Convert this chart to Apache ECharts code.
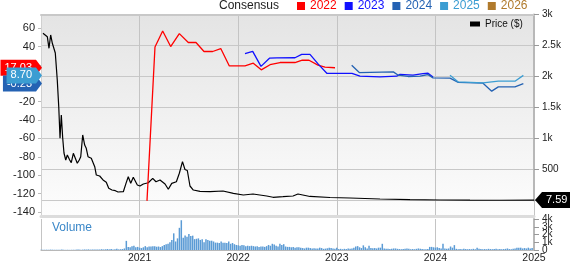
<!DOCTYPE html>
<html><head><meta charset="utf-8">
<script src="https://cdn.jsdelivr.net/npm/echarts@6/dist/echarts.min.js"></script>
<style>html,body{margin:0;padding:0;background:#fff}#c{width:570px;height:264px}</style>
</head><body><div id="c"></div>
<script>
const FONT = 'Liberation Sans, Arial, sans-serif';
// Price ($), decimal years
const priceYears = [2020.020,2020.038,2020.064,2020.081,2020.098,2020.115,2020.132,2020.145,2020.165,2020.180,2020.193,2020.206,2020.220,2020.233,2020.251,2020.267,2020.291,2020.307,2020.328,2020.348,2020.368,2020.388,2020.403,2020.423,2020.443,2020.459,2020.477,2020.510,2020.530,2020.545,2020.561,2020.595,2020.629,2020.662,2020.687,2020.720,2020.754,2020.781,2020.801,2020.835,2020.862,2020.885,2020.910,2020.936,2020.953,2020.977,2021.004,2021.038,2021.088,2021.133,2021.166,2021.207,2021.258,2021.291,2021.326,2021.373,2021.403,2021.435,2021.460,2021.484,2021.511,2021.545,2021.613,2021.714,2021.846,2021.951,2022.052,2022.150,2022.289,2022.353,2022.454,2022.556,2022.606,2022.728,2022.931,2023.134,2023.438,2023.742,2024.047,2024.351,2024.655,2025.000];
const priceValues = [2697,2723,2642,2455,2670,2536,2545,2379,1944,1513,1003,1379,1008,766,653,734,653,610,761,734,600,653,706,1057,895,842,706,681,697,545,411,395,331,294,197,169,158,137,132,142,277,384,277,374,358,250,234,266,287,358,303,331,266,181,277,303,439,626,500,484,234,169,148,142,153,116,89,105,73,52,61,73,105,65,48,40,24,13,8,5,4,7.59];

// Consensus EPS estimates
const c2022Years = [2021.075,2021.156,2021.234,2021.315,2021.403,2021.494,2021.572,2021.653,2021.741,2021.823,2021.910,2022.069,2022.153,2022.234,2022.323,2022.424,2022.576,2022.650,2022.718,2022.809,2022.880,2022.982];
const c2022Values = [-128,39.7,57.1,40.1,54.2,44.5,44.5,34.7,34.7,37.9,19.0,19.0,22.0,14.7,20.3,22.7,22.7,25.2,25.2,19.8,17.6,17.03];
const c2023Years = [2022.069,2022.147,2022.231,2022.317,2022.390,2022.576,2022.644,2022.728,2022.812,2022.901,2022.999,2023.154,2023.235,2023.438,2023.607,2023.641,2023.773,2023.874,2023.925,2023.976];
const c2023Values = [32.5,34.8,18.5,27.4,27.7,27.9,31.5,31.5,20.9,10.8,10.8,10.8,7.8,7.1,7.8,9.8,8.9,10.5,11.0,6.8];
const c2024Years = [2023.151,2023.228,2023.573,2023.624,2023.722,2023.844,2023.925,2023.976,2024.148,2024.232,2024.483,2024.571,2024.638,2024.807,2024.892];
const c2024Values = [19.8,11.8,12.5,8.9,7.5,7.8,9.5,6.0,5.7,1.0,0.2,-8.5,-3.8,-3.8,-0.23];
const c2025Years = [2024.148,2024.232,2024.483,2024.638,2024.807,2024.892];
const c2025Values = [8.9,1.6,0.6,2.4,2.4,8.70];

// Weekly volume (thousands), starting first week of 2020
const volumeStartYear = 2020;
const volumeValues = [0.02,0.03,0.02,0.04,0.03,0.05,0.04,0.03,0.02,0.03,0.04,0.05,0.03,0.02,0.03,0.02,0.03,0.04,0.03,0.05,0.06,0.04,0.05,0.07,0.06,0.08,0.05,0.06,0.07,0.05,0.06,0.08,0.1,0.07,0.09,0.12,
0.08,0.12,0.06,0.1,0.15,0.08,0.1,0.12,0.2,
1.18,0.4,0.35,0.5,0.55,0.35,0.4,0.3,0.25,0.35,0.5,0.35,0.45,0.45,0.5,0.48,0.42,0.45,0.38,0.5,
0.65,0.75,0.8,1.0,1.3,2.15,1.1,1.5,2.86,3.84,1.57,
1.88,1.7,2.08,1.8,1.85,1.4,1.45,1.5,1.3,1.4,1.0,1.4,1.3,1.2,1.2,1.1,0.95,0.95,0.9,1.1,0.95,0.95,0.9,1.1,
0.8,0.9,0.75,0.65,0.6,0.55,0.65,0.6,0.5,0.55,0.5,0.55,0.5,0.45,0.5,0.4,0.45,0.45,0.4,0.5,0.65,0.55,0.8,0.7,0.55,0.45,0.8,0.65,0.75,0.45,0.4,0.4,0.35,0.4,0.3,0.35,0.35,
0.3,0.25,0.2,0.3,0.3,0.25,0.2,0.22,0.18,0.2,0.3,0.25,0.15,0.18,0.22,0.3,0.25,0.2,0.15,0.3,
0.12,0.15,0.1,0.15,0.12,0.2,0.15,0.2,0.3,0.45,0.5,0.35,0.25,0.6,0.35,0.2,0.55,0.25,0.22,0.25,0.2,0.3,0.3,0.8,
0.2,0.15,0.15,0.12,0.15,0.2,0.2,0.15,0.12,0.1,0.12,0.15,0.2,0.15,0.1,0.12,0.1,0.15,0.2,0.15,0.12,0.1,0.1,0.12,
0.4,0.4,0.35,0.3,0.35,0.25,0.2,0.82,0.2,0.15,0.2,0.45,0.3,0.63,0.15,0.1,0.12,0.1,0.15,0.12,0.1,0.12,0.1,0.15,0.1,
0.3,0.15,0.12,0.1,0.12,0.1,0.15,0.12,0.1,0.12,0.15,0.1,0.12,0.1,0.12,0.15,0.2,0.12,0.1,0.15,0.2,0.3,0.3,0.3,0.2,0.25,0.2,0.3,0.2,0.25];

const leftTicks = [-140,-120,-100,-80,-60,-40,-20,0,20,40,60];
const volumeTicks = [0,1,2,3,4];
const volumeTickLabels = ['0','1k','2k','3k','4k'];
const legendYears = ['2022','2023','2024','2025','2026'];
const colors = {'2022':'#ff0000','2023':'#1010ff','2024':'#2462b3','2025':'#3b9dd2','2026':'#b07a2c'};

const zip = (a,b) => a.map((v,i)=>[v,b[i]]);
const ctx = document.createElement('canvas').getContext('2d');
function tw(t, size){ ctx.font = size + 'px ' + FONT; return ctx.measureText(t).width; }

const consensus = {'2022':[c2022Years,c2022Values],'2023':[c2023Years,c2023Values],'2024':[c2024Years,c2024Values],'2025':[c2025Years,c2025Values],'2026':[[],[]]};
const badgeOrder = ['2022','2024','2025'];
const badgeData = badgeOrder.map(k => { const v = consensus[k][1]; return [2020, v[v.length-1]]; });

const chart = echarts.init(document.getElementById('c'), null, {renderer:'canvas'});
const series = [];
series.push({name:'Price ($)', type:'line', xAxisIndex:1, yAxisIndex:1, data: zip(priceYears, priceValues), symbol:'none', lineStyle:{color:'#000', width:1.2}, itemStyle:{color:'#000'}, z:3});
legendYears.forEach(k => {
  series.push({name:k, type:'line', xAxisIndex:0, yAxisIndex:0, data: zip(consensus[k][0], consensus[k][1]), symbol:'none', lineStyle:{color:colors[k], width:1.3}, itemStyle:{color:colors[k]}, z:4});
});
series.push({name:'Volume', type:'bar', xAxisIndex:2, yAxisIndex:2, data: volumeValues.map((v,i)=>[volumeStartYear + i/52, v]), barWidth:1.5, itemStyle:{color:'#5b9bd5'}});
// volume axis labels placed through the volume axis scale
series.push({type:'custom', xAxisIndex:2, yAxisIndex:2, clip:false, z:10, silent:true, data: volumeTicks.map(v=>[2025, v]),
  renderItem: function(params, api){
    const pt = api.coord([api.value(0), api.value(1)]);
    return {type:'text', style:{text:volumeTickLabels[params.dataIndex], x:pt[0]+8, y:pt[1], align:'left', verticalAlign:'middle', fill:'#222', fontSize:10, fontFamily:FONT}};
  }});
series.push({type:'custom', xAxisIndex:0, yAxisIndex:0, clip:false, z:10, data: badgeData,
  renderItem: function(params, api){
    const pt = api.coord([api.value(0), api.value(1)]);
    const k = badgeOrder[params.dataIndex];
    const txt = api.value(1).toFixed(2);
    const w = tw(txt, 11) + 8;
    const tip = params.coordSys.x + 1, y = pt[1];
    return {type:'group', children:[
      {type:'polygon', shape:{points:[[tip,y],[tip-6,y-8],[tip-6-w,y-8],[tip-6-w,y+8],[tip-6,y+8]]}, style:{fill:colors[k]}},
      {type:'text', style:{text:txt, x:tip-6-w/2, y:y, align:'center', verticalAlign:'middle', fill:'#fff', fontSize:11, fontFamily:FONT}}
    ]};
  }});
series.push({type:'custom', xAxisIndex:1, yAxisIndex:1, clip:false, z:10, data: [[priceYears[priceYears.length-1], priceValues[priceValues.length-1]]],
  renderItem: function(params, api){
    const pt = api.coord([api.value(0), api.value(1)]);
    const txt = api.value(1).toFixed(2);
    const w = tw(txt, 11) + 8;
    const tip = pt[0] + 1, y = pt[1];
    return {type:'group', children:[
      {type:'polygon', shape:{points:[[tip,y],[tip+7,y-8],[tip+7+w,y-8],[tip+7+w,y+8],[tip+7,y+8]]}, style:{fill:'#000'}},
      {type:'text', style:{text:txt, x:tip+7+w/2, y:y, align:'center', verticalAlign:'middle', fill:'#fff', fontSize:11, fontFamily:FONT}}
    ]};
  }});

const gridL = 41, gridW = 493;
chart.setOption({
  animation:false,
  textStyle:{fontFamily:FONT},
  title:{text:'Consensus', left:219, top:0, padding:0, textStyle:{fontSize:12, fontWeight:'normal', color:'#222', fontFamily:FONT}},
  legend:[
    {data: legendYears.map(k=>({name:k, textStyle:{color:colors[k]}})), left:297, top:0, padding:0, icon:'rect', itemWidth:8, itemHeight:8, itemGap:8, selectedMode:false, textStyle:{fontSize:12, fontFamily:FONT}},
    {data:[{name:'Price ($)', icon:'rect'}], left:470, top:19, padding:0, itemWidth:10, itemHeight:5, selectedMode:false, textStyle:{fontSize:10, color:'#111', fontFamily:FONT}}
  ],
  graphic:[{type:'text', left:52, top:222, style:{text:'Volume', fill:'#3a87c8', fontSize:12, fontFamily:FONT}}],
  grid:[
    {left:gridL, top:14.5, width:gridW, height:202, show:true, borderWidth:0, backgroundColor:{type:'linear', x:0, y:0, x2:0, y2:1, colorStops:[{offset:0,color:'#e4e4e4'},{offset:1,color:'#fdfdfd'}]}},
    {left:gridL, top:14.5, width:gridW, height:186},
    {left:gridL, top:219, width:gridW, height:34.5}
  ],
  xAxis:[
    {gridIndex:0, type:'value', min:2020, max:2025, interval:1, axisLabel:{show:false}, axisTick:{show:false}, axisLine:{show:true, onZero:false, lineStyle:{color:'#dcdcdc', width:3}}, splitLine:{show:true, lineStyle:{color:'#c4c4c4'}}},
    {gridIndex:1, type:'value', position:'top', min:2020, max:2025, interval:1, axisLabel:{show:false}, axisTick:{show:false}, axisLine:{show:true, onZero:false, lineStyle:{color:'#c8c8c8', width:2}}, splitLine:{show:false}},
    {gridIndex:2, type:'value', min:2020, max:2025, interval:1, axisLabel:{formatter:v=>v===2020?'':String(v), fontSize:10.5, color:'#222', margin:3, showMaxLabel:true}, axisTick:{show:false}, axisLine:{show:true, onZero:false, lineStyle:{color:'#b8b8b8'}}, splitLine:{show:true, lineStyle:{color:'#c4c4c4'}}}
  ],
  yAxis:[
    {gridIndex:0, type:'value', position:'left', min:-145, max:75, interval:5, axisLine:{show:true, lineStyle:{color:'#d0d0d0'}}, axisTick:{show:true, customValues:leftTicks, length:3, lineStyle:{color:'#bbb'}}, axisLabel:{customValues:leftTicks, formatter:v=>(v%20===0?String(v):''), fontSize:11, color:'#222', margin:6}, splitLine:{show:false}},
    {gridIndex:1, type:'value', position:'right', min:0, max:3000, interval:500, axisLine:{show:true, lineStyle:{color:'#b8b8b8', width:2}}, axisTick:{show:true, length:5, lineStyle:{color:'#999'}}, axisLabel:{formatter:v=>v===0?'':(v>=1000?(v/1000)+'k':String(v)), fontSize:10, color:'#222', margin:8}, splitLine:{show:true, lineStyle:{color:'#c8c8c8'}}},
    {gridIndex:2, type:'value', position:'right', min:0, max:4, interval:1, axisLine:{show:true, lineStyle:{color:'#b8b8b8', width:2}}, axisTick:{show:true, length:5, lineStyle:{color:'#999'}}, axisLabel:{show:false}, splitLine:{show:false}}
  ],
  series: series
});
</script></body></html>
